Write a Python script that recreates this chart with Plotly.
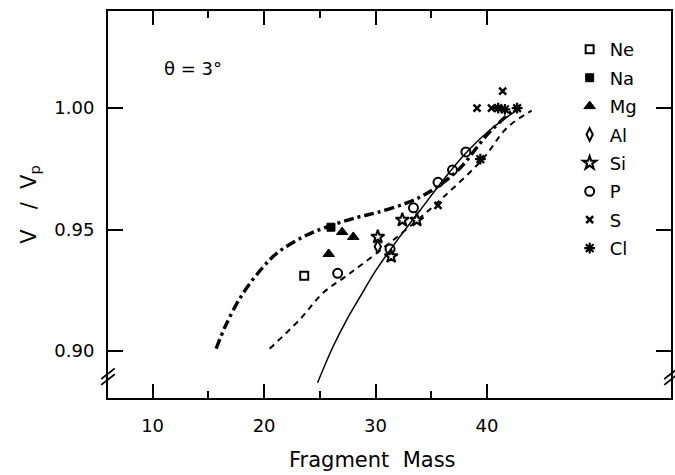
import plotly.graph_objects as go

# ---------------- data ----------------
ne_x = [23.6]
ne_y = [0.931]
na_x = [26.0]
na_y = [0.951]
mg_x = [25.8, 27.0, 28.0]
mg_y = [0.940, 0.949, 0.947]
al_x = [30.2]
al_y = [0.943]
si_x = [30.2, 31.4, 32.4, 33.7]
si_y = [0.947, 0.939, 0.954, 0.954]
p_x = [26.6, 31.3, 33.4, 35.6, 36.9, 38.1]
p_y = [0.932, 0.942, 0.959, 0.9695, 0.9745, 0.982]
s_x = [35.6, 39.1, 40.4, 41.4]
s_y = [0.960, 1.000, 1.000, 1.007]
cl_x = [39.4, 41.0, 41.6, 42.7]
cl_y = [0.979, 1.000, 0.9995, 1.000]

solid_x = [24.8, 26.2, 27.4, 28.7, 30.0, 32.0, 34.0, 36.0, 38.0, 40.0, 42.0, 43.0]
solid_y = [0.887, 0.902, 0.9128, 0.923, 0.933, 0.946, 0.958, 0.970, 0.981, 0.990, 0.997, 1.000]
dash_x = [20.5, 23.2, 25.3, 27.4, 30.0, 33.0, 36.0, 39.6, 41.8, 44.0]
dash_y = [0.901, 0.913, 0.924, 0.931, 0.940, 0.951, 0.963, 0.979, 0.992, 0.999]
dd_x = [15.7, 16.5, 18.0, 19.8, 21.2, 23.8, 26.2, 28.3, 30.1, 32.8, 35.0, 37.5, 40.0, 42.5]
dd_y = [0.901, 0.910, 0.923, 0.934, 0.9405, 0.9477, 0.952, 0.955, 0.957, 0.961, 0.966, 0.975, 0.989, 1.000]

x_ticks = [10, 20, 30, 40]
x_minor = [15, 25, 35]
y_ticks = [0.90, 0.95, 1.00]
y_tick_text = ["0.90", "0.95", "1.00"]

FONT = "DejaVu Sans"
fig = go.Figure()

# curves
fig.add_trace(go.Scatter(x=dd_x, y=dd_y, mode="lines", line=dict(color="black", width=3.4, dash="10px,4px,3px,4px", shape="spline"), showlegend=False, hoverinfo="skip"))
fig.add_trace(go.Scatter(x=dash_x, y=dash_y, mode="lines", line=dict(color="black", width=2, dash="6px,5px", shape="spline"), showlegend=False, hoverinfo="skip"))
fig.add_trace(go.Scatter(x=solid_x, y=solid_y, mode="lines", line=dict(color="black", width=1.5, shape="spline"), showlegend=False, hoverinfo="skip"))

series = [
    ("Ne", ne_x, ne_y, "square-open", 8, 2),
    ("Na", na_x, na_y, "square", 8, 1),
    ("Mg", mg_x, mg_y, "triangle-up", 10, 1),
    ("Al", al_x, al_y, "diamond-tall-open", 9, 2),
    ("Si", si_x, si_y, "star-open", 10, 2),
    ("P", p_x, p_y, "circle-open", 9, 2),
    ("S", s_x, s_y, "x-thin-open", 7, 2.5),
    ("Cl", cl_x, cl_y, "asterisk-open", 9, 2.2),
]
for name, xs, ys, sym, sz, lw in series:
    fig.add_trace(go.Scatter(
        x=xs, y=ys, mode="markers", name=name, legendgroup=name,
        marker=dict(symbol=sym, size=sz, color="black", line=dict(color="black", width=lw)),
    ))

axis_common = dict(showline=True, linecolor="black", linewidth=2, mirror="ticks",
                   ticks="inside", tickcolor="black", tickwidth=2, showgrid=False,
                   zeroline=False, automargin=False,
                   tickfont=dict(family=FONT, size=18, color="black"))

fig.update_xaxes(range=[6, 56.5], tickvals=x_ticks, ticklen=14, ticklabelstandoff=10,
                 minor=dict(tickvals=x_minor, ticklen=7, tickcolor="black", tickwidth=1.5, ticks="inside"),
                 **axis_common)
fig.update_yaxes(range=[0.8807, 1.04], tickvals=y_ticks, ticktext=y_tick_text, ticklen=15,
                 ticklabelstandoff=8,
                 title=dict(text="V   /  V<sub>p</sub>", font=dict(family=FONT, size=21, color="black"), standoff=12),
                 **axis_common)

# axis-break marks (decoration)
for xp in (0, 1):
    for dy in (-0.0012, 0.0012):
        fig.add_shape(type="line", xref="paper", yref="y",
                      x0=xp - 0.012, x1=xp + 0.012, y0=0.8895 + dy - 0.0022, y1=0.8895 + dy + 0.0022,
                      line=dict(color="black", width=1.8))

fig.add_annotation(x=10.8, y=1.0165, xref="x", yref="y", text="θ = 3°", showarrow=False,
                   xanchor="left", yanchor="middle", font=dict(family=FONT, size=18, color="black"))
fig.add_annotation(x=0.469, y=-0.161, xref="paper", yref="paper", text="Fragment  Mass", showarrow=False,
                   xanchor="center", yanchor="middle", font=dict(family=FONT, size=21, color="black"))

fig.update_layout(
    width=675, height=475,
    margin=dict(l=108, r=4, t=11, b=77),
    paper_bgcolor="white", plot_bgcolor="white",
    legend=dict(x=0.82, y=0.948, xanchor="left", yanchor="top", traceorder="grouped",
                tracegroupgap=2, bgcolor="rgba(0,0,0,0)",
                font=dict(family=FONT, size=18, color="black")),
)

fig.write_html("out.html", config={"displayModeBar": False},
               post_script="document.body.style.margin='0';document.body.style.overflow='hidden';")
